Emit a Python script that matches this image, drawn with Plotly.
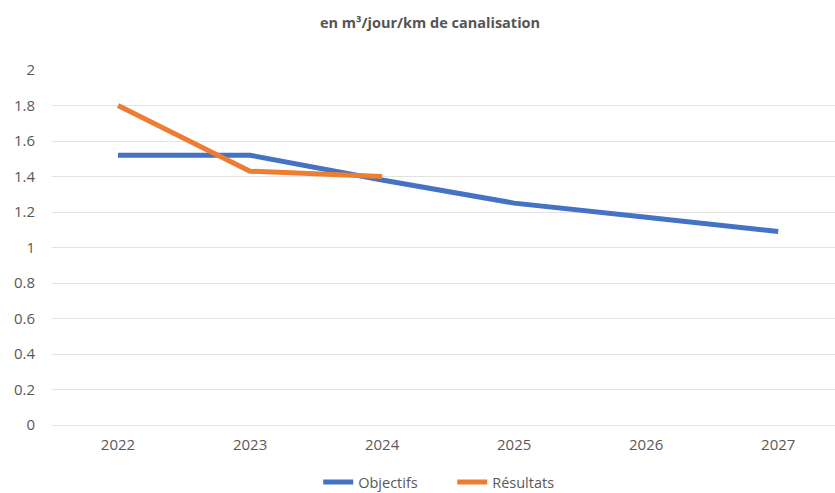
import plotly.graph_objects as go

years = ["2022", "2023", "2024", "2025", "2026", "2027"]
objectifs = [1.52, 1.52, 1.38, 1.25, 1.17, 1.09]
resultats_years = ["2022", "2023", "2024"]
resultats = [1.80, 1.43, 1.40]
yticks = [0, 0.2, 0.4, 0.6, 0.8, 1, 1.2, 1.4, 1.6, 1.8, 2]

fig = go.Figure()
fig.add_trace(go.Scatter(x=years, y=objectifs, mode="lines", name="Objectifs",
                         line=dict(color="#4472C4", width=5)))
fig.add_trace(go.Scatter(x=resultats_years, y=resultats, mode="lines", name="Résultats",
                         line=dict(color="#ED7D31", width=5)))

fig.update_layout(
    width=835, height=493,
    paper_bgcolor="white", plot_bgcolor="white",
    margin=dict(l=52, r=0, t=70, b=68, autoexpand=False),
    title=dict(text="<b>en m³/jour/km de canalisation</b>", x=0.515, xanchor="center",
               yref="container", y=0.953, yanchor="middle",
               font=dict(family="Open Sans", size=14.5, color="#555555")),
    font=dict(family="Open Sans", size=15, color="#595959"),
    xaxis=dict(type="category", range=[-0.5, 5.43], showgrid=False, showline=False,
               automargin=False, ticks="", ticklabelstandoff=9, tickfont=dict(size=15)),
    yaxis=dict(range=[0, 2], tickvals=yticks, ticktext=[str(v) for v in yticks],
               showgrid=True, gridcolor="#E3E3E3", gridwidth=1, zeroline=True,
               zerolinecolor="#E3E3E3", zerolinewidth=1, showline=False, automargin=False,
               ticks="", ticklabelstandoff=16, tickfont=dict(size=15)),
    legend=dict(orientation="h", x=0.340, xanchor="left", yref="container",
                y=0.022, yanchor="middle", entrywidth=89,
                font=dict(size=14.5, color="#595959"), tracegroupgap=0),
)

fig.write_html("out.html", config={"displayModeBar": False},
               post_script="document.body.style.margin='0';")
